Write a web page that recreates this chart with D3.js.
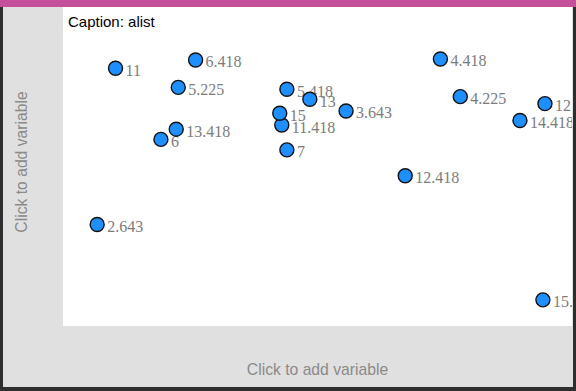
<!DOCTYPE html>
<html><head><meta charset="utf-8">
<script src="https://cdn.jsdelivr.net/npm/d3@7"></script>
<style>html,body{margin:0;padding:0;background:#fff;}svg{display:block;}</style>
</head><body>
<script>
// Point labels (categories) in drawing order
const labels = ["11","6.418","5.225","6","13.418","5.418","13","11.418","15","3.643","7","4.418","4.225","12","14.418","12.418","2.643","15."];
// Horizontal positions (arbitrary units 0–10, no axis shown)
const xValues = [1.03,2.60,2.26,1.92,2.22,4.39,4.84,4.29,4.25,5.55,4.39,7.40,7.79,9.45,8.96,6.71,0.67,9.41];
// Vertical positions (arbitrary units 0–10, no axis shown)
const yValues = [8.08,8.34,7.48,5.85,6.17,7.42,7.11,6.30,6.67,6.74,5.52,8.37,7.19,6.97,6.44,4.71,3.18,0.82];
const caption = "Caption: alist";
const axisHint = "Click to add variable";

const W = 576, H = 391;
const plot = {left: 63, top: 7, right: 572, bottom: 326};

const svg = d3.select("body").append("svg").attr("width", W).attr("height", H);

// frame
svg.append("rect").attr("x",0).attr("y",0).attr("width",W).attr("height",H).attr("fill","#2e2e2e");
svg.append("rect").attr("x",3).attr("y",0).attr("width",570).attr("height",387).attr("fill","#e0e0e0");
svg.append("rect").attr("x",0).attr("y",0).attr("width",W).attr("height",7).attr("fill","#c44f9a");
svg.append("rect").attr("x",plot.left).attr("y",plot.top)
  .attr("width",plot.right-plot.left).attr("height",plot.bottom-plot.top).attr("fill","#ffffff");

svg.append("defs").append("clipPath").attr("id","plotclip")
  .append("rect").attr("x",plot.left).attr("y",plot.top)
  .attr("width",plot.right-plot.left).attr("height",plot.bottom-plot.top);

const x = d3.scaleLinear().domain([0,10]).range([plot.left, plot.left+510]);
const y = d3.scaleLinear().domain([0,10]).range([plot.bottom, plot.bottom-319]);

svg.append("text").attr("x",68).attr("y",26.5)
  .attr("font-family","Liberation Sans, Arial, sans-serif").attr("font-size",15)
  .attr("fill","#000").text(caption);

const data = labels.map((l,i)=>({label:l, x:xValues[i], y:yValues[i]}));
const g = svg.append("g").attr("clip-path","url(#plotclip)");
const pts = g.selectAll("g.pt").data(data).join("g").attr("class","pt");
pts.append("circle")
  .attr("cx", d=>x(d.x)).attr("cy", d=>y(d.y)).attr("r",7)
  .attr("fill","#1e8fff").attr("stroke","#111").attr("stroke-width",1.4);
pts.append("text")
  .attr("x", d=>x(d.x)+10).attr("y", d=>y(d.y)+7.5)
  .attr("font-family","Liberation Serif, 'Times New Roman', serif").attr("font-size",16)
  .attr("fill","#7c7c7c").text(d=>d.label);

// axis hints
svg.append("text").attr("x",(plot.left+plot.right)/2).attr("y",375)
  .attr("text-anchor","middle").attr("font-family","Liberation Sans, Arial, sans-serif")
  .attr("font-size",15.7).attr("fill","#8a8a8a").text(axisHint);
svg.append("text").attr("transform","translate(27,162) rotate(-90)")
  .attr("text-anchor","middle").attr("font-family","Liberation Sans, Arial, sans-serif")
  .attr("font-size",15.7).attr("fill","#8a8a8a").text(axisHint);
</script>
</body></html>
